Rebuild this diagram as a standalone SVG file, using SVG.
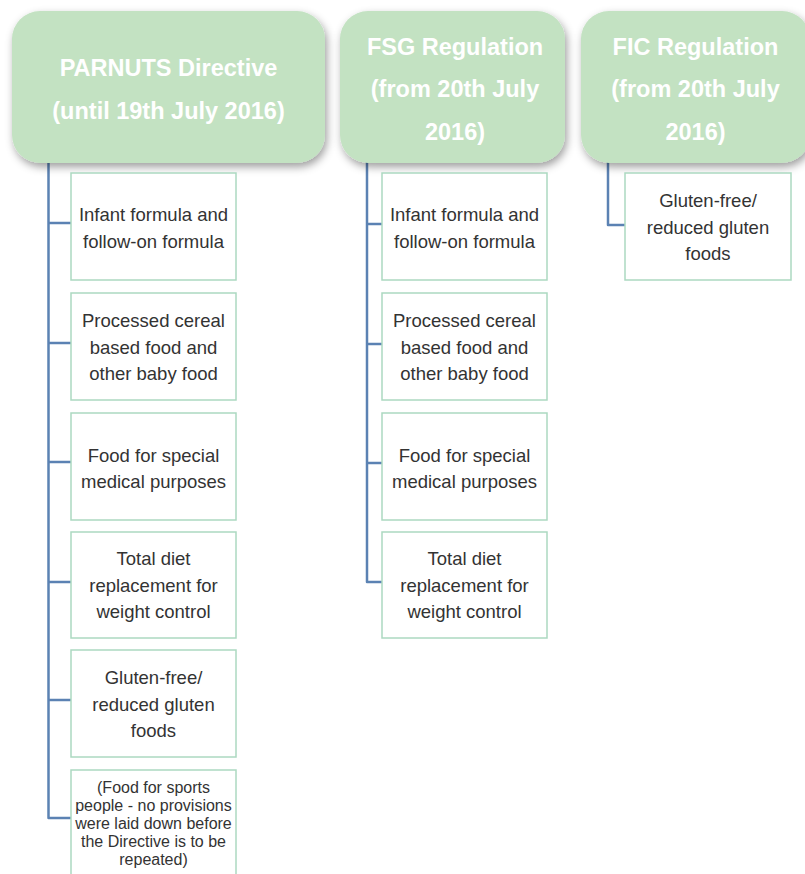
<svg xmlns="http://www.w3.org/2000/svg" width="805" height="874" viewBox="0 0 805 874">
<defs>
<filter id="sh" x="-10%" y="-10%" width="125%" height="130%">
<feDropShadow dx="2" dy="4" stdDeviation="4" flood-color="#000" flood-opacity="0.38"/>
</filter>
</defs>
<style>
.hdr{fill:#c3e2c2;filter:url(#sh)}
.ht{font-family:"Liberation Sans",Arial,sans-serif;font-weight:bold;font-size:23.5px;fill:#ffffff;text-anchor:middle}
.box{fill:#ffffff;stroke:#acd9c1;stroke-width:1.5}
.bt{font-family:"Liberation Sans",Arial,sans-serif;font-size:18.5px;fill:#333333;text-anchor:middle}
.bs{font-family:"Liberation Sans",Arial,sans-serif;font-size:16px;fill:#333333;text-anchor:middle}
.con{fill:none;stroke:#5b82b3;stroke-width:2.5;stroke-linejoin:round}
</style>
<rect width="805" height="874" fill="#ffffff"/>
<g id="connectors">
<path class="con" d="M48.5,160 V818 H71"/>
<path class="con" d="M48.5,223 H71 M48.5,343 H71 M48.5,462 H71 M48.5,582 H71 M48.5,700 H71"/>
<path class="con" d="M367,160 V582 H382"/>
<path class="con" d="M367,224 H382 M367,344 H382 M367,463 H382"/>
<path class="con" d="M608,160 V225 H625"/>
</g>
<g id="h1"><rect class="hdr" x="12" y="11" width="313" height="152" rx="28"/>
<text class="ht" x="168.5" y="76">PARNUTS Directive</text>
<text class="ht" x="168.5" y="119">(until 19th July 2016)</text></g>
<g id="h2"><rect class="hdr" x="340" y="11" width="225" height="152" rx="28"/>
<text class="ht" x="455" y="54.5">FSG Regulation</text>
<text class="ht" x="455" y="97">(from 20th July</text>
<text class="ht" x="455" y="139.5">2016)</text></g>
<g id="h3"><rect class="hdr" x="581" y="11" width="229" height="152" rx="28"/>
<text class="ht" x="695.5" y="54.5">FIC Regulation</text>
<text class="ht" x="695.5" y="97">(from 20th July</text>
<text class="ht" x="695.5" y="139.5">2016)</text></g>
<g id="a1"><rect class="box" x="71" y="173" width="165" height="107"/>
<text class="bt" x="153.5" y="221">Infant formula and</text>
<text class="bt" x="153.5" y="247.5">follow-on formula</text></g>
<g id="a2"><rect class="box" x="71" y="293" width="165" height="107"/>
<text class="bt" x="153.5" y="327">Processed cereal</text>
<text class="bt" x="153.5" y="353.5">based food and</text>
<text class="bt" x="153.5" y="380">other baby food</text></g>
<g id="a3"><rect class="box" x="71" y="413" width="165" height="107"/>
<text class="bt" x="153.5" y="461.5">Food for special</text>
<text class="bt" x="153.5" y="488">medical purposes</text></g>
<g id="a4"><rect class="box" x="71" y="532" width="165" height="106"/>
<text class="bt" x="153.5" y="565">Total diet</text>
<text class="bt" x="153.5" y="591.5">replacement for</text>
<text class="bt" x="153.5" y="618">weight control</text></g>
<g id="a5"><rect class="box" x="71" y="650" width="165" height="107"/>
<text class="bt" x="153.5" y="684">Gluten-free/</text>
<text class="bt" x="153.5" y="710.5">reduced gluten</text>
<text class="bt" x="153.5" y="737">foods</text></g>
<g id="a6"><rect class="box" x="71" y="770" width="165" height="130"/>
<text class="bs" x="153.5" y="793">(Food for sports</text>
<text class="bs" x="153.5" y="811">people - no provisions</text>
<text class="bs" x="153.5" y="829">were laid down before</text>
<text class="bs" x="153.5" y="847">the Directive is to be</text>
<text class="bs" x="153.5" y="865">repeated)</text></g>
<g id="b1"><rect class="box" x="382" y="173" width="165" height="107"/>
<text class="bt" x="464.5" y="221">Infant formula and</text>
<text class="bt" x="464.5" y="247.5">follow-on formula</text></g>
<g id="b2"><rect class="box" x="382" y="293" width="165" height="107"/>
<text class="bt" x="464.5" y="327">Processed cereal</text>
<text class="bt" x="464.5" y="353.5">based food and</text>
<text class="bt" x="464.5" y="380">other baby food</text></g>
<g id="b3"><rect class="box" x="382" y="413" width="165" height="107"/>
<text class="bt" x="464.5" y="461.5">Food for special</text>
<text class="bt" x="464.5" y="488">medical purposes</text></g>
<g id="b4"><rect class="box" x="382" y="532" width="165" height="106"/>
<text class="bt" x="464.5" y="565">Total diet</text>
<text class="bt" x="464.5" y="591.5">replacement for</text>
<text class="bt" x="464.5" y="618">weight control</text></g>
<g id="c1"><rect class="box" x="625" y="173" width="166" height="107"/>
<text class="bt" x="708" y="207">Gluten-free/</text>
<text class="bt" x="708" y="233.5">reduced gluten</text>
<text class="bt" x="708" y="260">foods</text></g>
</svg>
